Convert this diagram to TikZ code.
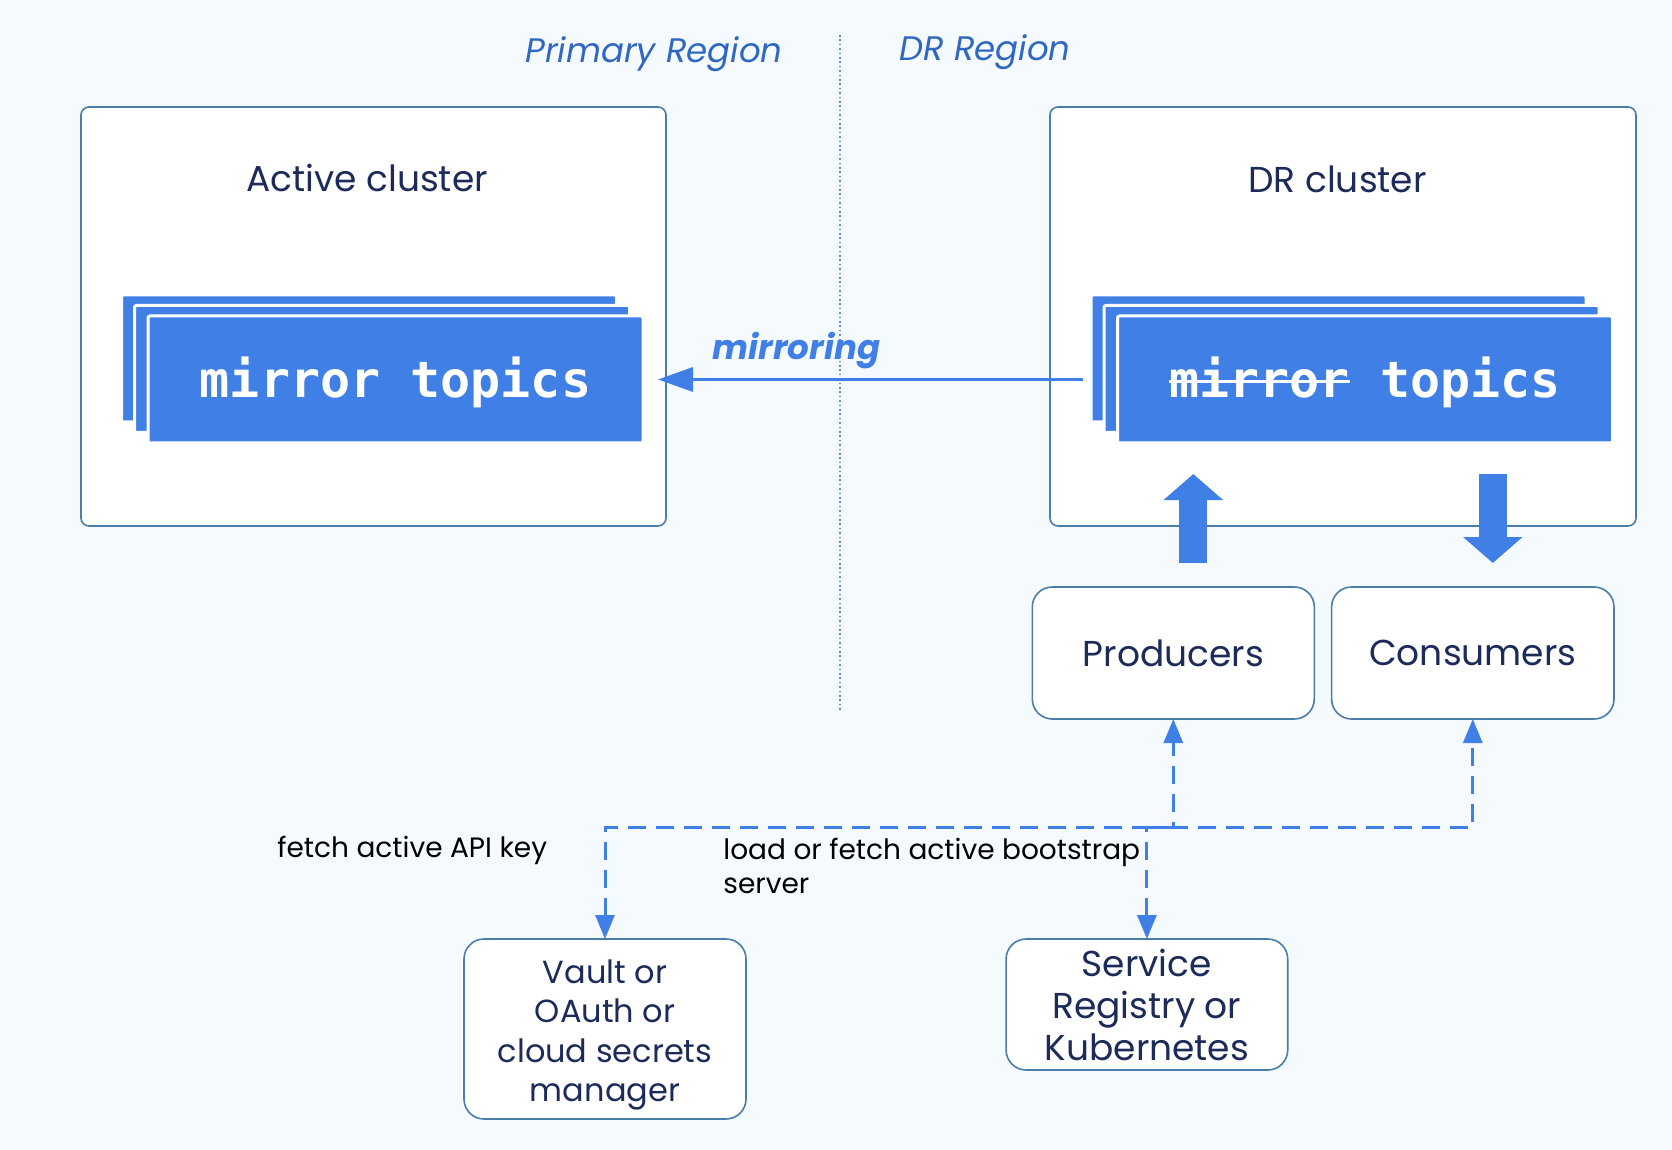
\documentclass[tikz,border=0pt]{standalone}
\usepackage{fontspec}
\setmainfont{Poppins}
\newfontfamily\topicfont{DejaVu Sans Mono}
\newsavebox\strikebox
\newcommand\mystrike[1]{\sbox\strikebox{#1}\rlap{\usebox\strikebox}\rule[7.25pt]{\wd\strikebox}{1.5pt}}
\usetikzlibrary{arrows.meta,calc}
\definecolor{bgc}{RGB}{245,250,254}
\definecolor{edgec}{RGB}{74,125,168}
\definecolor{blu}{RGB}{64,127,230}
\definecolor{navy}{RGB}{28,43,90}
\definecolor{regc}{RGB}{48,104,192}
\definecolor{dotc}{RGB}{100,140,190}
\begin{document}
\begin{tikzpicture}[x=0.5pt,y=-0.5pt,
 cluster/.style={draw=edgec,line width=0.8pt,fill=white,rounded corners=4pt,inner sep=0pt,outer sep=0pt},
 client/.style={draw=edgec,line width=0.8pt,fill=white,rounded corners=10pt,inner sep=0pt,outer sep=0pt,text=navy,font=\fontsize{18}{21}\selectfont,align=center,minimum width=141pt,minimum height=66pt},
 topic/.style={fill=blu,draw=white,line width=1.5pt,rounded corners=1pt,minimum width=247.5pt,minimum height=63.5pt,inner sep=0pt,outer sep=0pt,text=white,font=\topicfont\bfseries\fontsize{25}{25}\selectfont,text height=18.5pt,text depth=0pt},
 title/.style={text=navy,font=\fontsize{18}{21}\selectfont,anchor=base,inner sep=0pt},
 region/.style={text=regc,font=\fontsize{17}{20}\selectfont\itshape,anchor=base,inner sep=0pt},
 fat/.style={draw=blu,line width=14pt,-{Triangle[length=13pt,width=29pt]}},
 dashlink/.style={draw=blu,line width=1.5pt,dash pattern=on 9pt off 5pt,{Triangle[length=12pt,width=9.5pt]}-{Triangle[length=12pt,width=9.5pt]}},
 note/.style={text=black,font=\fontsize{14}{17}\selectfont,anchor=base west,inner sep=0pt,align=left}
]
\fill[bgc] (0,0) rectangle (1672,1150);
\useasboundingbox (0,0) rectangle (1672,1150);

% region labels and divider
\node[region] (primary) at (654,62.5) {Primary Region};
\node[region] (drreg) at (985,61) {DR Region};
\coordinate (dtop) at (840,35);
\coordinate (dbot) at (840,710);
\draw[dotc,line width=0.8pt,dash pattern=on 0.8pt off 1.4pt] (dtop) -- (dbot);

% clusters
\node[cluster,minimum width=292.5pt,minimum height=209.5pt] (active) at (373.5,316.5) {};
\node[cluster,minimum width=293pt,minimum height=209.5pt] (dr) at (1343,316.5) {};
\node[title] (activet) at (367,191.7) {Active cluster};
\node[title] (drt) at (1337.5,192.7) {DR cluster};

% topic stacks
\node[topic] (lback) at (369,358.5) {};
\node[topic] (lmid) at (382,369) {};
\node[topic] (lfront) at (395.5,379.5) {mirror topics};
\node[topic] (rback) at (1338.5,358.5) {};
\node[topic] (rmid) at (1351.5,369) {};
\node[topic] (rfront) at (1365,379.5) {\mystrike{mirror} topics};

% mirroring
\draw[blu,line width=1.75pt,-{Triangle[length=17.5pt,width=12pt]}] ([xshift=-4pt]rback.west |- rfront.center) -- ([xshift=7.5pt]lfront.east);
\node[text=blu,font=\fontsize{17}{20}\selectfont\bfseries\itshape,anchor=base,inner sep=0pt] (mirr) at (796.5,359.3) {mirroring};

% clients
\node[client] (prod) at (1173.3,653) {Producers};
\node[client,minimum width=141.2pt] (cons) at (1472.8,653) {Consumers};

% fat arrows
\draw[fat,shorten <=12pt,shorten >=15.5pt] ([xshift=10pt]prod.north) -- ([xshift=10pt]prod.north |- rfront.south);
\draw[fat,shorten <=15.5pt,shorten >=12pt] ([xshift=10pt]cons.north |- rfront.south) -- ([xshift=10pt]cons.north);

% backends
\node[client,minimum height=90pt] (vault) at (605,1029) {};
\node[text=navy,font=\fontsize{16}{19.75}\selectfont,align=center,inner sep=0pt] (vaultt) at (605,1035) {Vault or\\OAuth or\\cloud secrets\\manager};
\node[client,minimum width=140.8pt,minimum height=65.5pt] (svc) at (1146.9,1004.5) {Service\\Registry or\\Kubernetes};

% dashed links
\coordinate (bus) at (0,827);
\draw[dashlink] (vault.north) -- (vault.north |- bus) -- (prod.south |- bus) -- (prod.south);
\draw[dashlink] (svc.north) -- (svc.north |- bus) -- (cons.south |- bus) -- (cons.south);

% notes
\node[note] (fetch) at (277,857) {fetch active API key};
\node[note] (load) at (723,893) {load or fetch active bootstrap\\server};
\end{tikzpicture}
\end{document}
